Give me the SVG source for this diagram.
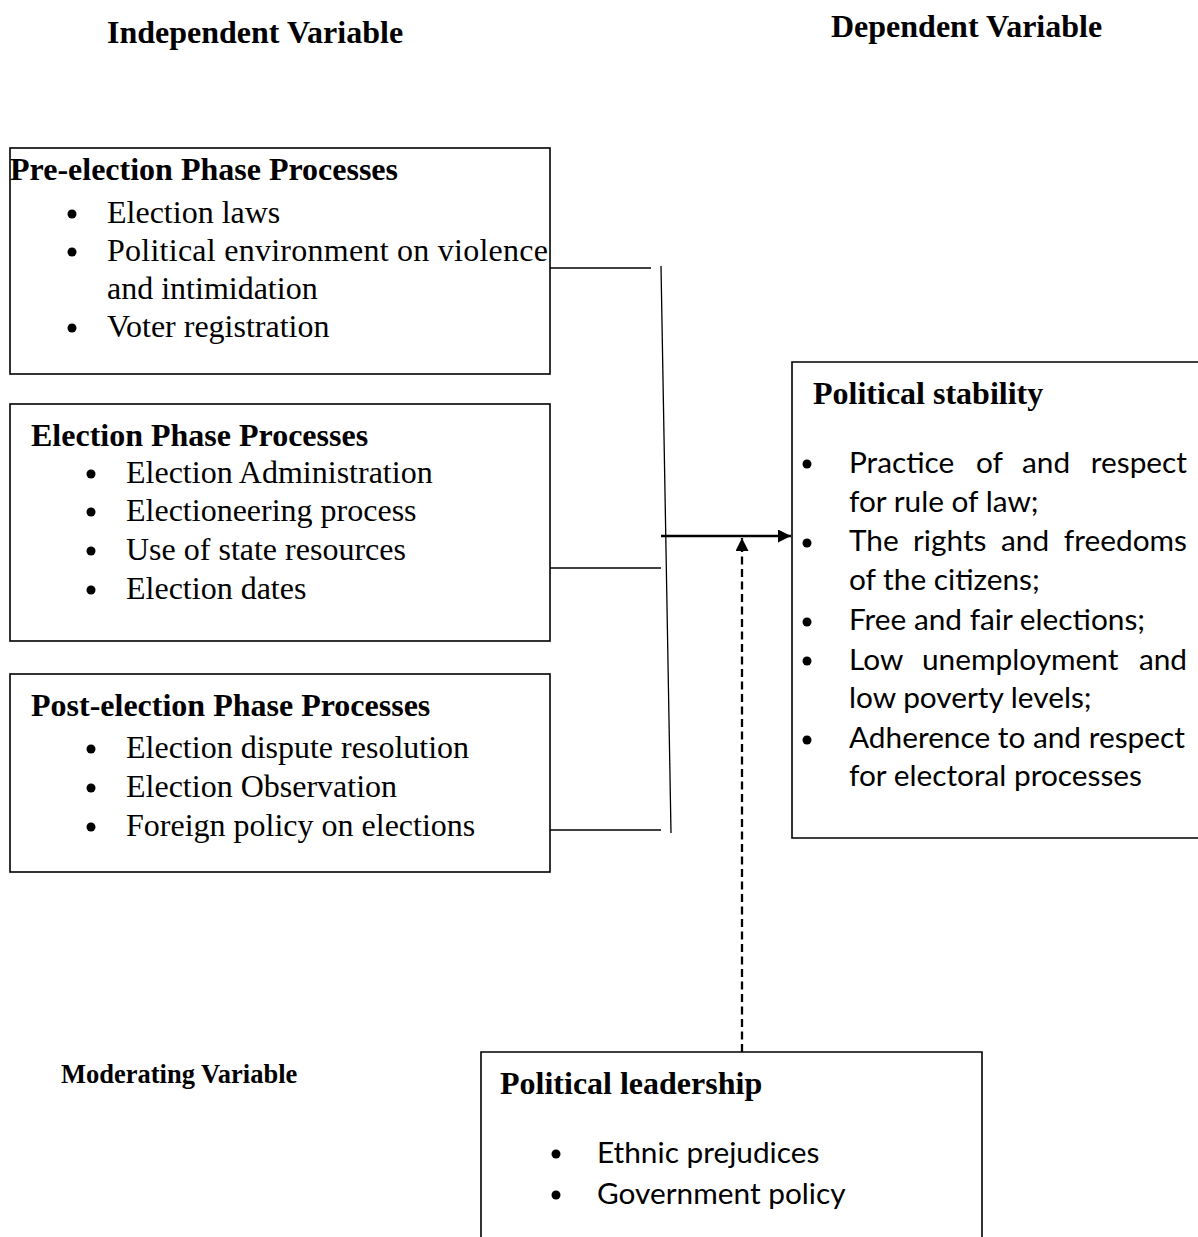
<svg xmlns="http://www.w3.org/2000/svg" width="1198" height="1237" viewBox="0 0 1198 1237">
<style>
.bg{fill:#fff}
.box{fill:none;stroke:#000;stroke-width:1.6}
.hd{font-family:"Liberation Serif","Times New Roman",serif;font-weight:bold;font-size:32px;fill:#000}
.sm{font-family:"Liberation Serif","Times New Roman",serif;font-weight:bold;font-size:26.5px;fill:#000}
.it{font-family:"Liberation Serif","Times New Roman",serif;font-size:32px;fill:#000}
.ca{font-family:Lato,"Liberation Sans",sans-serif;font-size:29.8px;fill:#000}
.end{text-anchor:end}
.dot{fill:#000}
.ln{stroke:#000;stroke-width:1.3;fill:none}
.ar{stroke:#000;stroke-width:2.5;fill:none}
.da{stroke:#000;stroke-width:2.3;fill:none;stroke-dasharray:8,4.5}
</style>
<defs>
<marker id="ah" viewBox="0 0 10 10" refX="10" refY="5" markerWidth="15" markerHeight="13" markerUnits="userSpaceOnUse" orient="auto">
<path d="M0,0 L10,5 L0,10 z" fill="#000"/>
</marker>
</defs>
<rect class="bg" x="0" y="0" width="1198" height="1237"/>
<g id="labels">
<text class="hd" x="107" y="43">Independent Variable</text>
<text class="hd" x="831" y="37">Dependent Variable</text>
<text class="sm" x="61" y="1083">Moderating Variable</text>
</g>
<g id="pre-election">
<rect class="box" x="10" y="148" width="540" height="226"/>
<text class="hd" x="10" y="180">Pre-election Phase Processes</text>
<circle class="dot" cx="72" cy="214" r="4.5"/>
<text class="it" x="107" y="223">Election laws</text>
<circle class="dot" cx="72" cy="252" r="4.5"/>
<text class="it" x="107" y="261" textLength="441" lengthAdjust="spacing">Political environment on violence</text>
<text class="it" x="107" y="299">and intimidation</text>
<circle class="dot" cx="72" cy="328" r="4.5"/>
<text class="it" x="107" y="337">Voter registration</text>
</g>
<g id="election">
<rect class="box" x="10" y="404" width="540" height="237"/>
<text class="hd" x="31" y="446">Election Phase Processes</text>
<circle class="dot" cx="91" cy="474" r="4.5"/>
<text class="it" x="126" y="483">Election Administration</text>
<circle class="dot" cx="91" cy="512" r="4.5"/>
<text class="it" x="126" y="521">Electioneering process</text>
<circle class="dot" cx="91" cy="551" r="4.5"/>
<text class="it" x="126" y="560">Use of state resources</text>
<circle class="dot" cx="91" cy="590" r="4.5"/>
<text class="it" x="126" y="599">Election dates</text>
</g>
<g id="post-election">
<rect class="box" x="10" y="674" width="540" height="198"/>
<text class="hd" x="31" y="716">Post-election Phase Processes</text>
<circle class="dot" cx="91" cy="749" r="4.5"/>
<text class="it" x="126" y="758">Election dispute resolution</text>
<circle class="dot" cx="91" cy="788" r="4.5"/>
<text class="it" x="126" y="797">Election Observation</text>
<circle class="dot" cx="91" cy="827" r="4.5"/>
<text class="it" x="126" y="836">Foreign policy on elections</text>
</g>
<g id="political-stability">
<path class="box" d="M1198,362 H792 V838 H1198"/>
<text class="hd" x="813" y="404">Political stability</text>
<circle class="dot" cx="807" cy="464" r="4.5"/>
<text class="ca" y="473"><tspan x="849">Practice</tspan><tspan x="976">of</tspan><tspan x="1022">and</tspan></text>
<text class="ca end" x="1187" y="473">respect</text>
<text class="ca" x="849" y="512">for rule of law;</text>
<circle class="dot" cx="807" cy="543" r="4.5"/>
<text class="ca" y="551"><tspan x="849">The</tspan><tspan x="913">rights</tspan><tspan x="1001">and</tspan></text>
<text class="ca end" x="1187" y="551">freedoms</text>
<text class="ca" x="849" y="590">of the citizens;</text>
<circle class="dot" cx="807" cy="622" r="4.5"/>
<text class="ca" x="849" y="630">Free and fair elections;</text>
<circle class="dot" cx="807" cy="661" r="4.5"/>
<text class="ca" y="670"><tspan x="849">Low</tspan><tspan x="922">unemployment</tspan></text>
<text class="ca end" x="1187" y="670">and</text>
<text class="ca" x="849" y="708">low poverty levels;</text>
<circle class="dot" cx="807" cy="740" r="4.5"/>
<text class="ca" x="849" y="748">Adherence to and respect</text>
<text class="ca" x="849" y="786">for electoral processes</text>
</g>
<g id="political-leadership">
<path class="box" d="M481,1237 V1052 H982 V1237"/>
<text class="hd" x="500" y="1094">Political leadership</text>
<circle class="dot" cx="556" cy="1154" r="4.5"/>
<text class="ca" x="597" y="1163">Ethnic prejudices</text>
<circle class="dot" cx="556" cy="1195" r="4.5"/>
<text class="ca" x="597" y="1204">Government policy</text>
</g>
<g id="connectors">
<line class="ln" x1="550" y1="268" x2="651" y2="268"/>
<line class="ln" x1="661" y1="266" x2="671" y2="833"/>
<line class="ln" x1="550" y1="568" x2="661" y2="568"/>
<line class="ln" x1="550" y1="830" x2="661" y2="830"/>
<line class="ar" x1="661" y1="536" x2="791" y2="536" marker-end="url(#ah)"/>
<line class="da" x1="742" y1="1052" x2="742" y2="538" marker-end="url(#ah)"/>
</g>
</svg>
